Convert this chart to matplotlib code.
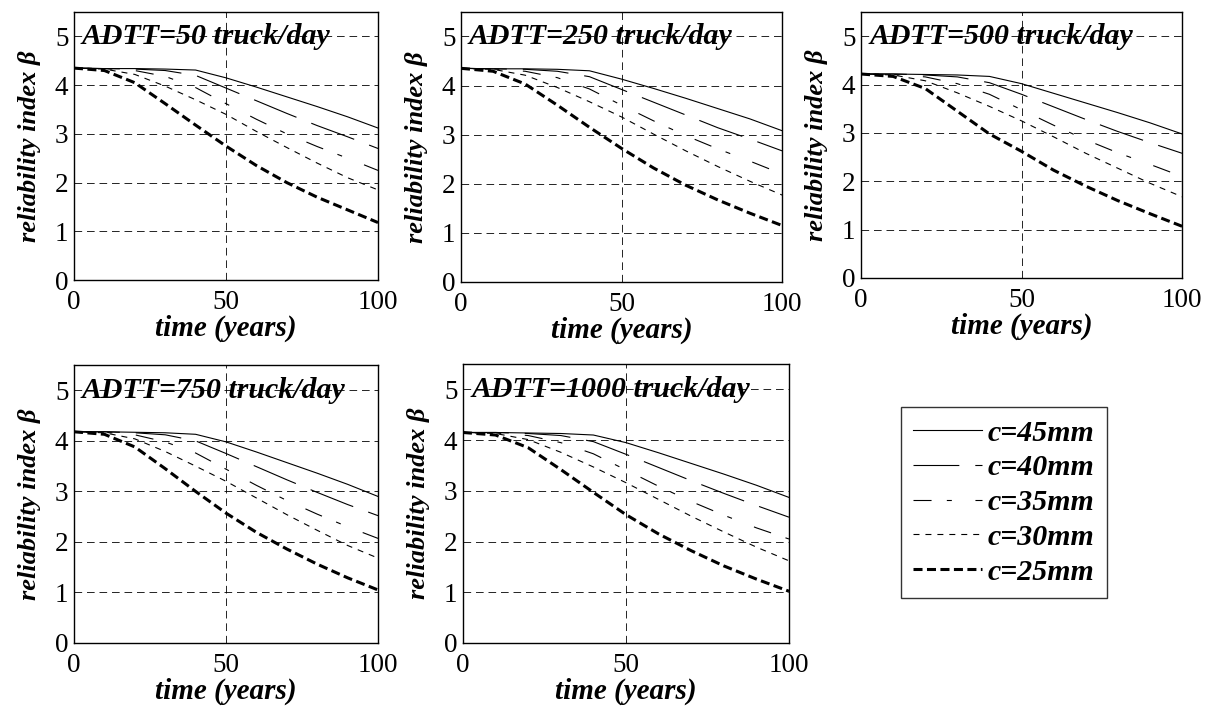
import matplotlib
matplotlib.use('Agg')
import matplotlib.pyplot as plt

plt.rcParams['font.family'] = ['Liberation Serif', 'DejaVu Serif']
plt.rcParams['lines.scale_dashes'] = False

# time axis (years)
t = [0, 10, 20, 30, 40, 50, 60, 70, 80, 90, 100]

adtt = [50, 250, 500, 750, 1000]
cover = ['c=45mm', 'c=40mm', 'c=35mm', 'c=30mm', 'c=25mm']

# reliability index beta, one list per cover depth
beta_50 = [
    [4.35, 4.34, 4.34, 4.33, 4.31, 4.15, 3.96, 3.76, 3.56, 3.35, 3.12],
    [4.35, 4.34, 4.33, 4.30, 4.20, 3.94, 3.68, 3.42, 3.17, 2.94, 2.70],
    [4.35, 4.34, 4.30, 4.18, 3.95, 3.62, 3.30, 3.00, 2.74, 2.50, 2.25],
    [4.35, 4.33, 4.22, 3.98, 3.70, 3.40, 3.05, 2.72, 2.40, 2.10, 1.85],
    [4.35, 4.30, 4.05, 3.62, 3.18, 2.75, 2.35, 2.00, 1.70, 1.44, 1.18],
]
beta_250 = [
    [4.35, 4.34, 4.34, 4.33, 4.30, 4.13, 3.94, 3.74, 3.53, 3.32, 3.08],
    [4.35, 4.34, 4.33, 4.29, 4.18, 3.92, 3.66, 3.40, 3.14, 2.91, 2.67],
    [4.35, 4.34, 4.29, 4.16, 3.93, 3.60, 3.28, 2.98, 2.71, 2.46, 2.20],
    [4.35, 4.33, 4.21, 3.96, 3.67, 3.36, 3.01, 2.67, 2.35, 2.05, 1.77],
    [4.35, 4.29, 4.03, 3.60, 3.15, 2.72, 2.32, 1.97, 1.67, 1.40, 1.15],
]
beta_500 = [
    [4.22, 4.22, 4.21, 4.20, 4.17, 4.02, 3.82, 3.62, 3.42, 3.21, 2.98],
    [4.22, 4.22, 4.20, 4.16, 4.04, 3.80, 3.54, 3.28, 3.03, 2.80, 2.58],
    [4.22, 4.21, 4.16, 4.02, 3.80, 3.48, 3.16, 2.86, 2.59, 2.35, 2.10],
    [4.22, 4.20, 4.08, 3.83, 3.55, 3.25, 2.92, 2.58, 2.27, 1.96, 1.68],
    [4.22, 4.17, 3.92, 3.45, 2.98, 2.62, 2.23, 1.90, 1.60, 1.33, 1.07],
]
beta_750 = [
    [4.18, 4.18, 4.17, 4.16, 4.13, 3.98, 3.78, 3.57, 3.36, 3.14, 2.90],
    [4.18, 4.18, 4.16, 4.12, 4.00, 3.75, 3.49, 3.23, 2.98, 2.74, 2.52],
    [4.18, 4.17, 4.12, 3.98, 3.76, 3.44, 3.12, 2.82, 2.55, 2.30, 2.07],
    [4.18, 4.16, 4.04, 3.79, 3.50, 3.20, 2.87, 2.54, 2.23, 1.93, 1.68],
    [4.18, 4.13, 3.88, 3.45, 3.00, 2.57, 2.19, 1.86, 1.56, 1.29, 1.05],
]
beta_1000 = [
    [4.15, 4.15, 4.14, 4.13, 4.10, 3.95, 3.75, 3.54, 3.33, 3.11, 2.87],
    [4.15, 4.15, 4.13, 4.09, 3.97, 3.72, 3.46, 3.20, 2.95, 2.71, 2.48],
    [4.15, 4.14, 4.09, 3.95, 3.73, 3.41, 3.09, 2.79, 2.52, 2.27, 2.05],
    [4.15, 4.13, 4.01, 3.76, 3.47, 3.16, 2.83, 2.50, 2.19, 1.89, 1.62],
    [4.15, 4.10, 3.85, 3.42, 2.97, 2.53, 2.15, 1.82, 1.52, 1.26, 1.02],
]
all_beta = [beta_50, beta_250, beta_500, beta_750, beta_1000]

# line styles for c=45 ... c=25
styles = [
    dict(lw=0.8, linestyle='-'),
    dict(lw=0.8, dashes=(33, 11.5)),
    dict(lw=0.8, dashes=(13, 11, 3.6, 17)),
    dict(lw=0.8, dashes=(4.3, 4.3)),
    dict(lw=2.2, dashes=(6.5, 3.2)),
]

# axes rectangles [left, bottom, width, height] in figure fraction
rects = [
    [0.0608, 0.605, 0.2498, 0.378],
    [0.3788, 0.6023, 0.2638, 0.381],
    [0.7075, 0.6079, 0.2638, 0.375],
    [0.0608, 0.0931, 0.2498, 0.392],
    [0.3804, 0.0931, 0.2679, 0.3935],
]

bi = dict(fontweight='bold', fontstyle='italic')

fig = plt.figure(figsize=(12.17, 7.09), dpi=100)

for k in range(5):
    ax = fig.add_axes(rects[k])
    ax.set_xlim(0, 100)
    ax.set_ylim(0, 5.5)
    ax.set_xticks([0, 50, 100])
    ax.set_yticks([0, 1, 2, 3, 4, 5])
    ax.tick_params(length=0, labelsize=19.5)
    ax.tick_params(axis='x', pad=7)
    ax.tick_params(axis='y', pad=4)
    # grid lines (dashed, black)
    for yv in [1, 2, 3, 4, 5]:
        ax.axhline(yv, color='k', lw=0.6, dashes=(5.5, 3.5), zorder=1)
    ax.axvline(50, color='k', lw=0.6, dashes=(5.5, 3.5), zorder=1)
    lines = []
    for j in range(5):
        ln, = ax.plot(t, all_beta[k][j], color='k', zorder=3, **styles[j])
        lines.append(ln)
    for s in ax.spines.values():
        s.set_linewidth(1.0)
    ax.text(2.5, 5.0, 'ADTT=' + str(adtt[k]) + ' truck/day', fontsize=21.5,
            va='center', ha='left', zorder=4, **bi)
    ax.set_xlabel('time (years)', fontsize=21, labelpad=0, **bi)
    ax.set_ylabel('reliability index \u03b2', fontsize=19, labelpad=10, **bi)

leg = fig.legend(lines, cover, loc='upper left', bbox_to_anchor=(0.740, 0.426),
                 prop=dict(size=21.5, weight='bold', style='italic'),
                 handlelength=2.3, labelspacing=0.26, handletextpad=0.2,
                 borderpad=0.42, borderaxespad=0, frameon=True, fancybox=False)
leg.get_frame().set_edgecolor('k')
leg.get_frame().set_linewidth(1.0)

plt.savefig('out.png', dpi=100)
plt.close()
